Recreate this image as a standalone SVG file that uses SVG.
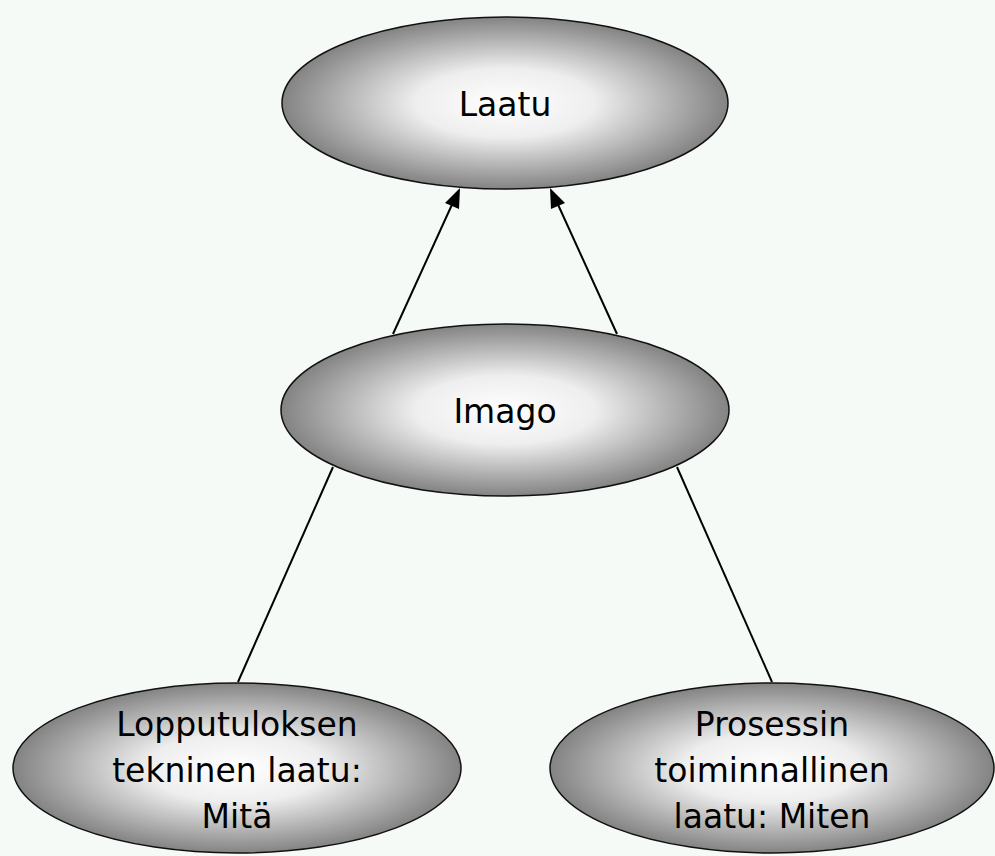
<svg xmlns="http://www.w3.org/2000/svg" width="995" height="856" viewBox="0 0 995 856">
<style>
.node ellipse{fill:url(#g);stroke:#111;stroke-width:1.5}
.node text{font-family:"DejaVu Sans",Verdana,sans-serif;font-size:33px;fill:#000;text-anchor:middle}
.edge{stroke:#000;stroke-width:2;fill:none}
.head{fill:#000}
</style>
<defs>
<radialGradient id="g" cx="0.5" cy="0.5" r="0.5">
<stop offset="0" stop-color="#ffffff"/>
<stop offset="0.4" stop-color="#eeeeee"/>
<stop offset="1" stop-color="#838383"/>
</radialGradient>
</defs>
<rect width="995" height="856" fill="#f6faf6"/>
<g id="connectors">
<line class="edge" x1="393" y1="334" x2="455" y2="198"/>
<line class="edge" x1="617" y1="334" x2="555" y2="198"/>
<line class="edge" x1="333" y1="467" x2="238" y2="682"/>
<line class="edge" x1="677" y1="467" x2="772" y2="682"/>
<path class="head" d="M460,188 L445,203 L459,209 z"/>
<path class="head" d="M550,188 L551,209 L565,203 z"/>
</g>
<g id="n-laatu" class="node">
<ellipse cx="505" cy="103" rx="223" ry="86"/>
<text x="505" y="116">Laatu</text>
</g>
<g id="n-imago" class="node">
<ellipse cx="505" cy="410" rx="224" ry="86"/>
<text x="505" y="423">Imago</text>
</g>
<g id="n-lopputulos" class="node">
<ellipse cx="237" cy="768" rx="224" ry="85"/>
<text x="237" y="736">Lopputuloksen</text>
<text x="237" y="782">tekninen laatu:</text>
<text x="237" y="828">Mitä</text>
</g>
<g id="n-prosessi" class="node">
<ellipse cx="772" cy="768" rx="222" ry="85"/>
<text x="772" y="736">Prosessin</text>
<text x="772" y="782">toiminnallinen</text>
<text x="772" y="828">laatu: Miten</text>
</g>
</svg>
